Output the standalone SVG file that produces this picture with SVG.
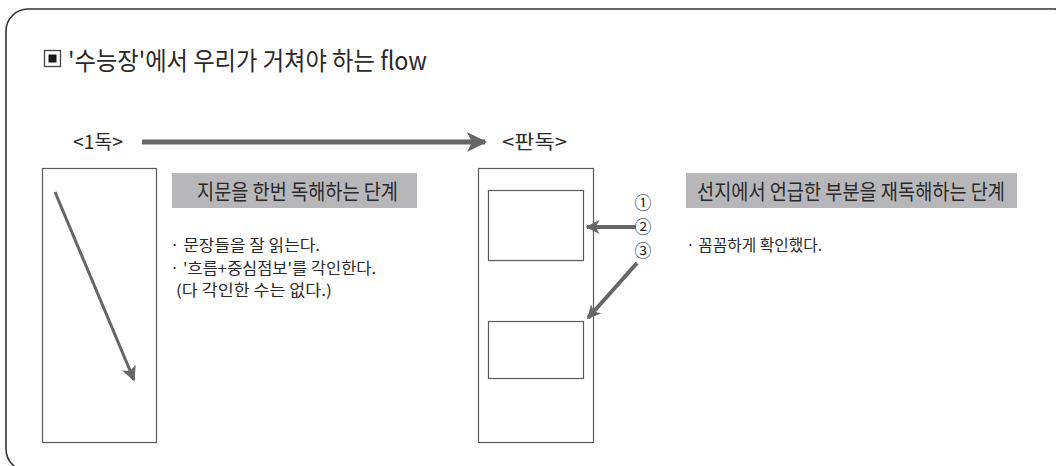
<svg xmlns="http://www.w3.org/2000/svg" width="1056" height="466" viewBox="0 0 1056 466">
<defs>
<style>
.t{font-family:"Noto Sans CJK KR","Liberation Sans",sans-serif;fill:#2a2a2a;}
.box{fill:#fff;stroke:#5a5a5a;stroke-width:1.2;}
.lbl{fill:#b7b7ba;}
.arr{stroke:#666;fill:none;}
</style>
<marker id="ah" viewBox="0 0 10 10" refX="9" refY="5" markerWidth="4" markerHeight="4" markerUnits="strokeWidth" orient="auto">
<path d="M0,0 L10,5 L0,10 L2.5,5 Z" fill="#666"/>
</marker>
<marker id="ah3" viewBox="0 0 10 10" refX="9" refY="5" markerWidth="5" markerHeight="5" markerUnits="strokeWidth" orient="auto">
<path d="M0,0 L10,5 L0,10 L2.5,5 Z" fill="#666"/>
</marker>
<marker id="ah2" viewBox="0 0 10 10" refX="9" refY="5" markerWidth="3.4" markerHeight="3.4" markerUnits="strokeWidth" orient="auto">
<path d="M0,0 L10,5 L0,10 L2.5,5 Z" fill="#666"/>
</marker>
</defs>
<rect x="0" y="0" width="1056" height="466" fill="#fff"/>
<rect id="frame" x="6" y="9" width="1070" height="462" rx="22" ry="22" fill="none" stroke="#333" stroke-width="1.6"/>
<g id="title">
<rect x="44.5" y="50.5" width="16" height="16" fill="#fff" stroke="#444" stroke-width="1.3"/>
<rect x="48.5" y="54.5" width="8" height="8" fill="#1a1a1a"/>
<text class="t" x="68" y="70" font-size="25" textLength="359" lengthAdjust="spacingAndGlyphs">'수능장'에서 우리가 거쳐야 하는 flow</text>
</g>
<g id="stage1-title"><text class="t" x="73" y="149" font-size="19" textLength="50" lengthAdjust="spacingAndGlyphs">&lt;1독&gt;</text></g>
<g id="stage2-title"><text class="t" x="502" y="149" font-size="19" textLength="65" lengthAdjust="spacingAndGlyphs">&lt;판독&gt;</text></g>
<g id="page1"><rect class="box" x="42.5" y="168.5" width="114" height="274"/></g>
<g id="page2">
<rect class="box" x="478.5" y="168.5" width="115" height="274"/>
<rect class="box" x="488.5" y="190.5" width="95" height="70"/>
<rect class="box" x="488.5" y="321.5" width="95" height="57"/>
</g>
<g id="label1">
<rect class="lbl" x="172" y="173" width="245" height="35"/>
<text class="t" x="197" y="199" font-size="21" textLength="201" lengthAdjust="spacingAndGlyphs">지문을 한번 독해하는 단계</text>
</g>
<g id="notes1">
<text class="t" x="170" y="251" font-size="15.5" textLength="150" lengthAdjust="spacingAndGlyphs">· 문장들을 잘 읽는다.</text>
<text class="t" x="170" y="274" font-size="15.5" textLength="206" lengthAdjust="spacingAndGlyphs">· '흐름+중심점보'를 각인한다.</text>
<text class="t" x="176" y="296" font-size="15.5" textLength="156" lengthAdjust="spacingAndGlyphs">(다 각인한 수는 없다.)</text>
</g>
<g id="label2">
<rect class="lbl" x="686" y="173" width="331" height="35"/>
<text class="t" x="697" y="199" font-size="21" textLength="308" lengthAdjust="spacingAndGlyphs">선지에서 언급한 부분을 재독해하는 단계</text>
</g>
<g id="notes2">
<text class="t" x="686" y="251" font-size="15.5" textLength="136" lengthAdjust="spacingAndGlyphs">· 꼼꼼하게 확인했다.</text>
</g>
<g id="markers">
<text class="t" x="643" y="209" font-size="17" text-anchor="middle">①</text>
<text class="t" x="643" y="233" font-size="17" text-anchor="middle">②</text>
<text class="t" x="643" y="257" font-size="17" text-anchor="middle">③</text>
</g>
<g id="connectors">
<line class="arr" x1="142" y1="142" x2="485" y2="142" stroke-width="5" marker-end="url(#ah)"/>
<line class="arr" x1="55" y1="192" x2="134" y2="380" stroke-width="3" marker-end="url(#ah3)"/>
<line class="arr" x1="636" y1="227" x2="587" y2="227" stroke-width="4" marker-end="url(#ah2)"/>
<line class="arr" x1="637" y1="263" x2="588" y2="318" stroke-width="4" marker-end="url(#ah2)"/>
</g>
</svg>
